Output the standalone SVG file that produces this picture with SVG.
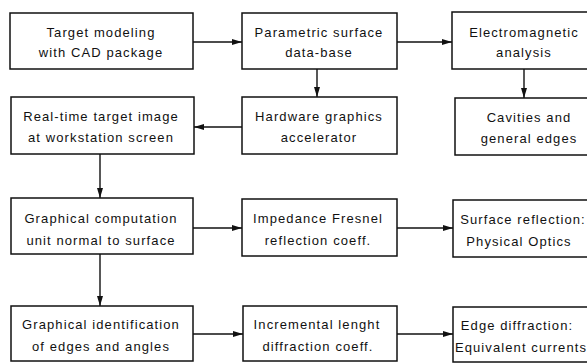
<svg xmlns="http://www.w3.org/2000/svg" width="587" height="363" viewBox="0 0 587 363">
<defs>
<marker id="ah" viewBox="0 0 10 6" refX="10" refY="3" markerWidth="10" markerHeight="6" markerUnits="userSpaceOnUse" orient="auto">
<path d="M0,0 L10,3 L0,6 Z" fill="#111"/>
</marker>
</defs>
<style>
rect{fill:#fff;stroke:#111;stroke-width:1.5}
text{font-family:"Liberation Sans",Arial,sans-serif;font-size:13px;letter-spacing:1.1px;fill:#111;text-anchor:middle}
.c path{fill:none;stroke:#111;stroke-width:1.4;marker-end:url(#ah)}
</style>
<rect x="0" y="0" width="587" height="363" style="stroke:none;fill:#fff"/>
<g class="c" id="connectors">
<path d="M193,42 H242"/>
<path d="M397,42 H452"/>
<path d="M317,69 V97"/>
<path d="M524,69 V98"/>
<path d="M242,127 H194"/>
<path d="M100,154 V198"/>
<path d="M193,228 H242"/>
<path d="M397,228 H453"/>
<path d="M100,254 V306"/>
<path d="M193,334 H243"/>
<path d="M397,334 H453"/>
</g>
<g id="n1"><rect x="10" y="13" width="183" height="56"/><text x="101" y="37">Target modeling</text><text x="101" y="57">with CAD package</text></g>
<g id="n2"><rect x="242" y="13" width="155" height="56"/><text x="319" y="37">Parametric surface</text><text x="319" y="57">data-base</text></g>
<g id="n3"><rect x="452" y="12" width="150" height="57"/><text x="524" y="37">Electromagnetic</text><text x="524" y="57">analysis</text></g>
<g id="n4"><rect x="11" y="97" width="183" height="57"/><text x="101" y="121">Real-time target image</text><text x="101" y="142">at workstation screen</text></g>
<g id="n5"><rect x="242" y="97" width="155" height="57"/><text x="319" y="121">Hardware graphics</text><text x="319" y="142">accelerator</text></g>
<g id="n6"><rect x="455" y="98" width="147" height="57"/><text x="529" y="122">Cavities and</text><text x="529" y="143">general edges</text></g>
<g id="n7"><rect x="11" y="198" width="182" height="56"/><text x="101" y="223">Graphical computation</text><text x="101" y="245">unit normal to surface</text></g>
<g id="n8"><rect x="242" y="199" width="155" height="57"/><text x="318" y="223">Impedance Fresnel</text><text x="318" y="245">reflection coeff.</text></g>
<g id="n9"><rect x="453" y="200" width="149" height="57"/><text x="523" y="224">Surface reflection:</text><text x="519" y="246">Physical Optics</text></g>
<g id="n10"><rect x="11" y="306" width="182" height="55"/><text x="101" y="329">Graphical identification</text><text x="101" y="351">of edges and angles</text></g>
<g id="n11"><rect x="243" y="306" width="154" height="55"/><text x="317" y="329">Incremental lenght</text><text x="318" y="351">diffraction coeff.</text></g>
<g id="n12"><rect x="453" y="307" width="149" height="55"/><text x="517" y="330">Edge diffraction:</text><text x="521" y="352">Equivalent currents</text></g>
</svg>
